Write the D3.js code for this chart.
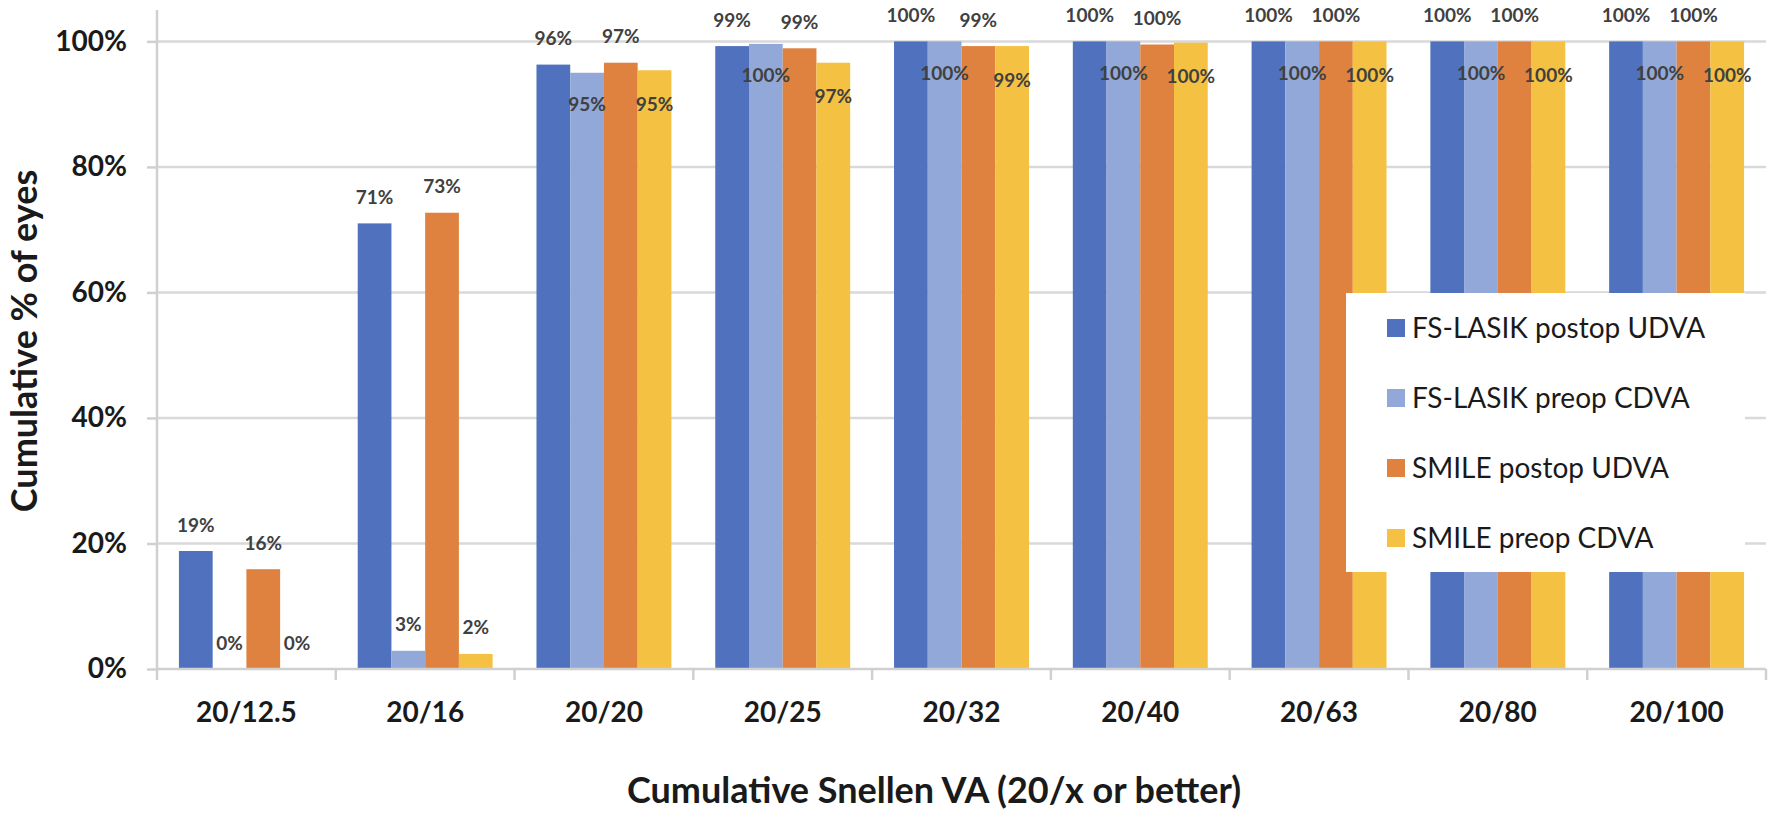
<!DOCTYPE html>
<html>
<head>
<meta charset="utf-8">
<script src="https://cdn.jsdelivr.net/npm/d3@7"></script>
<style>
  html, body { margin: 0; padding: 0; background: #ffffff; }
  svg { display: block; }
  text { font-family: Lato, "Open Sans", sans-serif; }
</style>
</head>
<body>
<svg id="chart" width="1770" height="816"></svg>
<script>
const categories = ["20/12.5", "20/16", "20/20", "20/25", "20/32", "20/40", "20/63", "20/80", "20/100"];
const seriesNames = ["FS-LASIK postop UDVA", "FS-LASIK preop CDVA", "SMILE postop UDVA", "SMILE preop CDVA"];
const fsLasikPostopUDVA = [18.8, 71.0, 96.3, 99.25, 100, 100, 100, 100, 100];
const fsLasikPreopCDVA  = [0, 2.9, 95.0, 99.6, 100, 100, 100, 100, 100];
const smilePostopUDVA   = [15.9, 72.7, 96.6, 98.9, 99.25, 99.5, 100, 100, 100];
const smilePreopCDVA    = [0, 2.4, 95.4, 96.6, 99.25, 99.8, 100, 100, 100];
const yTicks = [0, 20, 40, 60, 80, 100];
const colors = ["#4F71BE", "#91A8D8", "#E0823F", "#F5C142"];

const seriesValues = [fsLasikPostopUDVA, fsLasikPreopCDVA, smilePostopUDVA, smilePreopCDVA];

const svg = d3.select("#chart");
const plotLeft = 157, plotRight = 1766, plotTop = 10, plotBottom = 669;

const x0 = d3.scaleBand().domain(categories).range([plotLeft, plotRight]).paddingInner(0).paddingOuter(0);
const x1 = d3.scaleBand().domain(seriesNames).range([0, x0.bandwidth()]).paddingInner(0).paddingOuter(0.65);
const y = d3.scaleLinear().domain([0, 105]).range([plotBottom, plotTop]);

// gridlines
svg.append("g").selectAll("line").data(yTicks.filter(t => t > 0)).join("line")
  .attr("x1", plotLeft).attr("x2", plotRight)
  .attr("y1", d => y(d)).attr("y2", d => y(d))
  .attr("stroke", "#d9d9d9").attr("stroke-width", 2.5);

// y axis
const yAxis = d3.axisLeft(y).tickValues(yTicks).tickSize(10).tickPadding(20).tickFormat(d => d + "%");
const gy = svg.append("g").attr("transform", `translate(${plotLeft},0)`).call(yAxis);
gy.select(".domain").attr("stroke", "#d0d0d0").attr("stroke-width", 2.5).attr("d", `M0,${plotTop}V${plotBottom}`);
gy.selectAll(".tick line").attr("stroke", "#d0d0d0").attr("stroke-width", 2.5);
gy.selectAll(".tick text").attr("font-family", "Lato").attr("font-weight", "bold")
  .attr("font-size", 28).attr("fill", "#1a1a1a");

// bars
const groups = svg.append("g").selectAll("g").data(categories).join("g")
  .attr("transform", d => `translate(${x0(d)},0)`);

groups.selectAll("rect").data((c, i) => seriesNames.map((s, k) => ({s, k, v: seriesValues[k][i]}))).join("rect")
  .attr("x", d => x1(d.s)).attr("width", x1.bandwidth())
  .attr("y", d => y(d.v)).attr("height", d => y(0) - y(d.v))
  .attr("fill", d => colors[d.k]);

// x axis
const xAxis = d3.axisBottom(x0).tickSize(0).tickPadding(0);
const gx = svg.append("g").attr("transform", `translate(0,${plotBottom})`).call(xAxis);
gx.select(".domain").attr("stroke", "#d0d0d0").attr("stroke-width", 2.5).attr("d", `M${plotLeft},0H${plotRight}`);
gx.selectAll(".tick text").attr("font-family", "Lato").attr("font-weight", "bold")
  .attr("font-size", 28).attr("fill", "#1a1a1a").attr("dy", null).attr("y", 53);
// category boundary ticks
const bounds = categories.map(c => x0(c)).concat([plotRight]);
gx.append("g").selectAll("line").data(bounds).join("line")
  .attr("x1", d => d).attr("x2", d => d).attr("y1", 0).attr("y2", 11)
  .attr("stroke", "#d0d0d0").attr("stroke-width", 2.5);

// data labels
groups.selectAll("text.lbl").data((c, i) => seriesNames.map((s, k) => ({s, k, v: seriesValues[k][i]}))).join("text")
  .attr("class", "lbl")
  .attr("x", d => x1(d.s) + x1.bandwidth() / 2)
  .attr("y", d => {
    const inside = (d.k === 1 || d.k === 3) && d.v > 50;
    return inside ? y(d.v) + (d.k === 1 ? 31 : 33) : y(d.v) - 27;
  })
  .attr("text-anchor", "middle").attr("dominant-baseline", "central")
  .attr("font-family", "Lato").attr("font-weight", "bold").attr("font-size", 19)
  .attr("fill", "#404040")
  .text(d => Math.round(d.v) + "%");

// legend
const lg = svg.append("g");
lg.append("rect").attr("x", 1346).attr("y", 293).attr("width", 399).attr("height", 279).attr("fill", "#ffffff");
const li = lg.selectAll("g").data(seriesNames).join("g")
  .attr("transform", (d, i) => `translate(1387,${319 + i * 70})`);
li.append("rect").attr("width", 18).attr("height", 18).attr("fill", (d, i) => colors[i]);
li.append("text").attr("x", 25).attr("y", 19).attr("font-family", "Lato")
  .attr("font-size", 28).attr("fill", "#1a1a1a").text(d => d);

// axis titles
svg.append("text").attr("x", 934).attr("y", 803).attr("text-anchor", "middle")
  .attr("font-family", "Lato").attr("font-weight", "bold").attr("font-size", 36).attr("fill", "#1a1a1a")
  .text("Cumulative Snellen VA (20/x or better)");
svg.append("text").attr("transform", "translate(37,341) rotate(-90)").attr("text-anchor", "middle")
  .attr("font-family", "Lato").attr("font-weight", "bold").attr("font-size", 36).attr("fill", "#1a1a1a")
  .text("Cumulative % of eyes");
</script>
</body>
</html>
